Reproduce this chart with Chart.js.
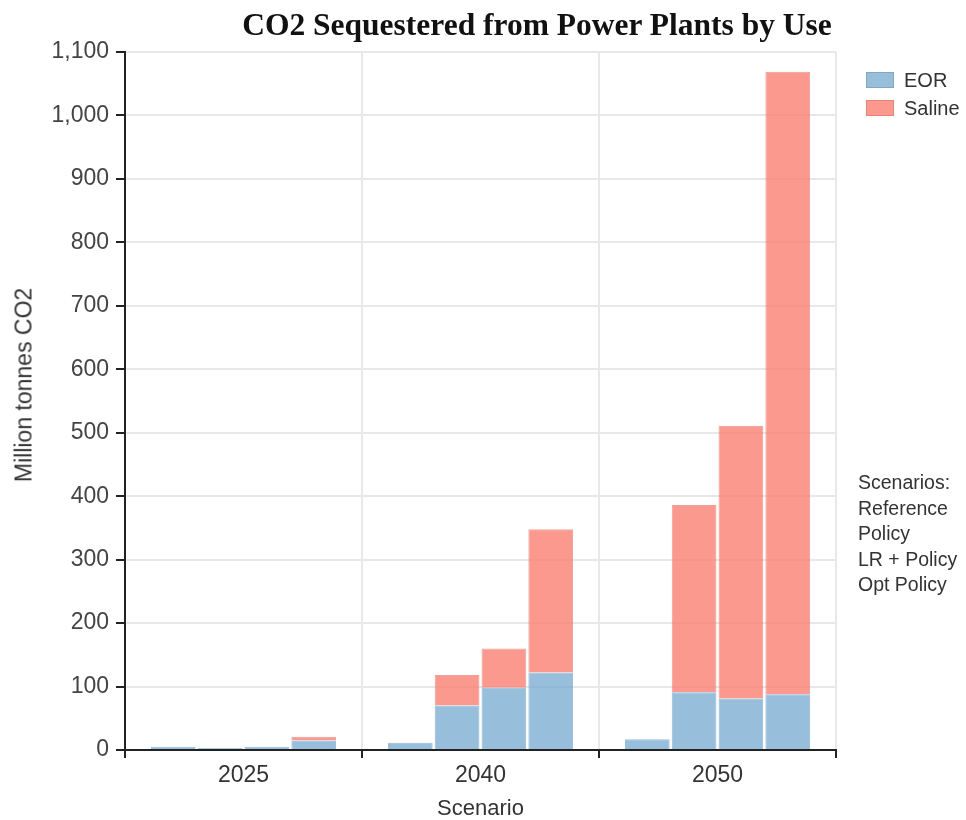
<!DOCTYPE html>
<html>
<head>
<meta charset="utf-8">
<script src="https://cdn.jsdelivr.net/npm/chart.js@4"></script>
<style>
    body { margin: 0; background: #fff; }
    #wrap { position: relative; width: 966px; height: 820px; }
    #title {
        position: absolute; left: 237px; top: 7px; width: 600px; text-align: center;
        font-family: "Liberation Serif", "Times New Roman", serif; font-weight: bold;
        font-size: 31.5px; color: #111; white-space: nowrap;
    }
    #ytitle {
        position: absolute; left: 24px; top: 385px; transform: translate(-50%, -50%) rotate(-90deg);
        font-family: "Liberation Sans", Arial, sans-serif; font-size: 23px; color: #333; white-space: nowrap;
    }
    .legend { position: absolute; left: 866px; font-family: "Liberation Sans", Arial, sans-serif; font-size: 20px; color: #333; }
    .legend span.box { display: inline-block; width: 26px; height: 14px; vertical-align: -1px; margin-right: 10px; }
    #scen {
        position: absolute; left: 858px; top: 470px; font-family: "Liberation Sans", Arial, sans-serif;
        font-size: 19.5px; line-height: 25.5px; color: #333;
    }
</style>
</head>
<body>
<div id="wrap">
    <canvas id="chart" width="966" height="820"></canvas>
    <div id="title">CO2 Sequestered from Power Plants by Use</div>
    <div id="ytitle">Million tonnes CO2</div>
    <div class="legend" style="top:69px"><span class="box" style="background:#97bedb;border:1px solid #7fa9c9"></span>EOR</div>
    <div class="legend" style="top:97px"><span class="box" style="background:#fb998e;border:1px solid #e98479"></span>Saline</div>
    <div id="scen">Scenarios:<br>Reference<br>Policy<br>LR + Policy<br>Opt Policy</div>
</div>
<script>
    const years = ['2025', '2040', '2050'];
    const scenarios = ['Reference', 'Policy', 'LR + Policy', 'Opt Policy'];
    const yTicksMax = 1100;

    // Million tonnes CO2, per scenario across years
    const eorReference = [5, 11.5, 17];
    const salineReference = [0, 0, 0];
    const eorPolicy = [3, 70, 91];
    const salinePolicy = [0, 48, 295];
    const eorLrPolicy = [5, 98, 81];
    const salineLrPolicy = [0, 62, 430];
    const eorOptPolicy = [15, 122, 88];
    const salineOptPolicy = [6, 226, 981];

    const eorSeries = [eorReference, eorPolicy, eorLrPolicy, eorOptPolicy];
    const salineSeries = [salineReference, salinePolicy, salineLrPolicy, salineOptPolicy];

    const datasets = [];
    scenarios.forEach(function (name, i) {
        datasets.push({
            label: 'EOR',
            stack: name,
            data: eorSeries[i],
            backgroundColor: 'rgba(116, 169, 207, 0.75)',
            borderColor: 'rgba(90, 145, 190, 0.6)',
            borderWidth: 1
        });
        datasets.push({
            label: 'Saline',
            stack: name,
            data: salineSeries[i],
            backgroundColor: 'rgba(250, 128, 114, 0.8)',
            borderColor: 'rgba(225, 100, 90, 0.6)',
            borderWidth: 1
        });
    });

    const tickFont = { family: '"Liberation Sans", Arial, sans-serif', size: 23 };

    new Chart(document.getElementById('chart').getContext('2d'), {
        type: 'bar',
        data: { labels: years, datasets: datasets },
        options: {
            responsive: false,
            animation: false,
            categoryPercentage: 0.79,
            barPercentage: 0.955,
            layout: { padding: { top: 52, right: 130, left: 0, bottom: 0 } },
            plugins: {
                legend: { display: false },
                tooltip: { enabled: false },
                title: { display: false }
            },
            scales: {
                x: {
                    stacked: true,
                    afterFit: function (scale) { scale.height = 70; },
                    grid: { color: '#e8e8e8', lineWidth: 2, tickColor: '#222', tickLength: 8, offset: true },
                    border: { color: '#222', width: 2 },
                    ticks: { color: '#333', font: tickFont, padding: 4 },
                    title: {
                        display: true, text: 'Scenario', color: '#333',
                        font: { family: '"Liberation Sans", Arial, sans-serif', size: 22, lineHeight: 1 },
                        padding: 0
                    }
                },
                y: {
                    stacked: true,
                    min: 0,
                    max: yTicksMax,
                    afterFit: function (scale) { scale.width = 125; },
                    grid: { color: '#e8e8e8', lineWidth: 2, tickColor: '#222', tickLength: 9 },
                    border: { color: '#222', width: 2 },
                    ticks: {
                        stepSize: 100,
                        color: '#444',
                        font: tickFont,
                        padding: 7,
                        callback: function (v) { return Number(v).toLocaleString('en-US'); }
                    }
                }
            }
        }
    });
</script>
</body>
</html>
